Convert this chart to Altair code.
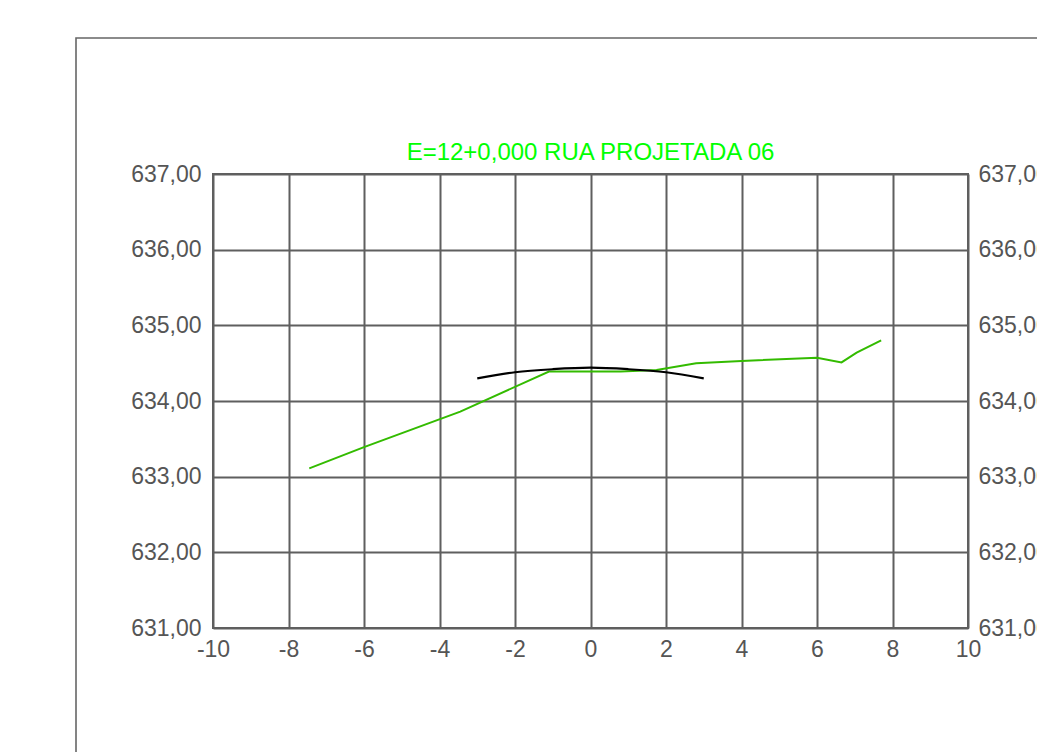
import altair as alt
import pandas as pd

# Terrain (green) profile
terrain_x = [-7.45, -6.0, -3.45, -1.1, 0.8, 1.75, 2.8, 4.0, 6.0, 6.65, 7.05, 7.7]
terrain_y = [633.11, 633.39, 633.86, 634.39, 634.39, 634.41, 634.50, 634.53, 634.57, 634.51, 634.64, 634.80]

# Road (black) crown profile
road_x = [-3, -2, -1, 0, 1, 2, 3]
road_y = [634.30, 634.38, 634.42, 634.44, 634.42, 634.38, 634.30]

x_ticks = [-10, -8, -6, -4, -2, 0, 2, 4, 6, 8, 10]
y_ticks = [631, 632, 633, 634, 635, 636, 637]

title_text = "E=12+0,000 RUA PROJETADA 06"

terrain = pd.DataFrame({"x": terrain_x, "y": terrain_y})
road = pd.DataFrame({"x": road_x, "y": road_y})

FONT = "Liberation Sans"
GRID = "#5f5f5f"
LABEL = "#555555"
FS = 23

xscale = alt.Scale(domain=[-10, 10], nice=False, zero=False)
yscale = alt.Scale(domain=[631, 637], nice=False, zero=False)

label_expr = "replace(format(datum.value, '.2f'), '.', ',')"

x_enc = alt.X("x:Q", scale=xscale, axis=alt.Axis(
    values=x_ticks, title=None, grid=True, gridColor=GRID, gridWidth=2, gridOpacity=1,
    domain=False, ticks=False, labelFont=FONT, labelFontSize=FS, labelColor=LABEL,
    labelPadding=10, labelFlush=False, labelExpr="'' + datum.value"))

y_left = alt.Y("y:Q", scale=yscale, axis=alt.Axis(
    values=y_ticks, title=None, grid=True, gridColor=GRID, gridWidth=2, gridOpacity=1,
    domain=False, ticks=False, labelFont=FONT, labelFontSize=FS, labelColor=LABEL,
    labelPadding=12, labelExpr=label_expr, orient="left", labelFlush=False))

y_right = alt.Y("y:Q", scale=yscale, axis=alt.Axis(
    values=y_ticks, title=None, grid=False,
    domain=False, ticks=False, labelFont=FONT, labelFontSize=FS, labelColor=LABEL,
    labelPadding=10, labelExpr=label_expr, orient="right", labelFlush=False))

frame = alt.Chart(alt.Data(values=[{"a": 1}])).mark_rect(
    fill=None, stroke="#666666", strokeWidth=1.6
).encode(
    x=alt.value(-137), y=alt.value(-136), x2=alt.value(1000), y2=alt.value(800)
)

title = alt.Chart(alt.Data(values=[{"t": title_text}])).mark_text(
    font=FONT, fontSize=24, color="#00ff00", align="center", baseline="alphabetic"
).encode(x=alt.value(377.5), y=alt.value(-14), text="t:N")

green = alt.Chart(terrain).mark_line(color="#33bb00", strokeWidth=2).encode(
    x=x_enc, y=y_left)

black = alt.Chart(road).mark_line(color="#000000", strokeWidth=2.2, interpolate="natural").encode(
    x=alt.X("x:Q", scale=xscale), y=y_right)

chart = alt.layer(green, black, frame, title).resolve_axis(y="independent").properties(
    width=755,
    height=454,
    autosize=alt.AutoSizeParams(type="none"),
    padding={"left": 205, "top": 166, "right": 69, "bottom": 130},
).configure_view(stroke=GRID, strokeWidth=2)

chart.save("out.html", embed_options={"renderer": "svg", "actions": False})
